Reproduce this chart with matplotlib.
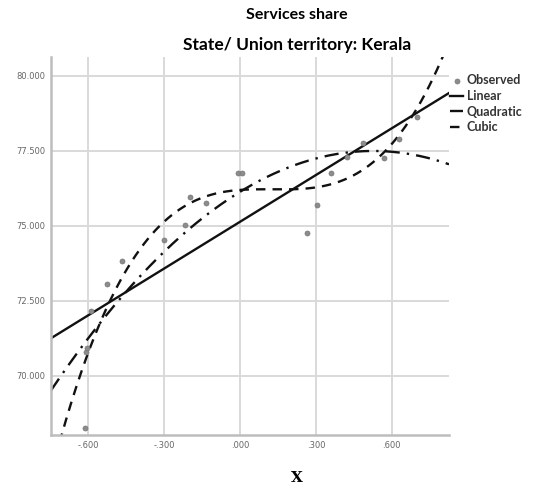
import numpy as np
import matplotlib
matplotlib.use("Agg")
import matplotlib.pyplot as plt

# Observed services share (Kerala) against the centred time variable X
x_obs = [-0.612, -0.610, -0.606, -0.588, -0.525, -0.466, -0.300, -0.217, -0.197,
         -0.134, -0.008, 0.008, 0.264, 0.304, 0.359, 0.422, 0.486, 0.569, 0.628, 0.699]
y_obs = [68.27, 70.80, 70.92, 72.16, 73.06, 73.82, 74.52, 75.02, 75.98,
         75.75, 76.78, 76.78, 74.75, 75.71, 76.78, 77.31, 77.77, 77.28, 77.91, 78.64]

x_ticks = [-0.6, -0.3, 0.0, 0.3, 0.6]
x_tick_labels = ["-.600", "-.300", ".000", ".300", ".600"]
y_ticks = [70.0, 72.5, 75.0, 77.5, 80.0]
y_tick_labels = ["70.000", "72.500", "75.000", "77.500", "80.000"]

x_obs = np.array(x_obs)
y_obs = np.array(y_obs)

fig = plt.figure(figsize=(5.33, 4.91), dpi=100)
ax = fig.add_axes([51 / 533, 1 - 435 / 491, 398 / 533, 378 / 491])

xmin, xmax = -0.747, 0.826
ymin, ymax = 68.03, 80.63
xs = np.linspace(xmin, xmax, 400)

grid_c = "#d9d9d9"
for t in x_ticks:
    ax.axvline(t, color=grid_c, lw=1.4, zorder=0)
for t in y_ticks:
    ax.axhline(t, color=grid_c, lw=1.4, zorder=0)

ax.scatter(x_obs, y_obs, s=13, color="#8c8c8c", edgecolor="#777777", lw=0.5,
           zorder=3, label="Observed")

styles = [(1, "Linear", "-"), (2, "Quadratic", (0, (6, 3, 1, 3))), (3, "Cubic", (0, (4, 3)))]
for deg, name, ls in styles:
    coef = np.polyfit(x_obs, y_obs, deg)
    ax.plot(xs, np.polyval(coef, xs), color="#111111", lw=1.7, ls=ls, label=name,
            zorder=2)

ax.set_xlim(xmin, xmax)
ax.set_ylim(ymin, ymax)
ax.set_xticks(x_ticks)
ax.set_xticklabels(x_tick_labels)
ax.set_yticks(y_ticks)
ax.set_yticklabels(y_tick_labels)
ax.tick_params(length=0, labelsize=6, colors="#666666", pad=4)
for lab in ax.get_xticklabels() + ax.get_yticklabels():
    lab.set_family(["Liberation Sans Narrow", "DejaVu Sans"])
for side in ["top", "right"]:
    ax.spines[side].set_visible(False)
for side in ["left", "bottom"]:
    ax.spines[side].set_color("#bdbdbd")
    ax.spines[side].set_linewidth(1.8)

fig.text(297 / 533, 1 - 15 / 491, "Services share", ha="center", va="center",
         fontsize=11.5, fontweight="bold", family="Lato")
fig.text(297 / 533, 1 - 45 / 491, "State/ Union territory: Kerala", ha="center",
         va="center", fontsize=12.5, fontweight="bold", family="Lato")
fig.text(297 / 533, 1 - 478 / 491, "X", ha="center", va="center",
         fontsize=11, fontweight="bold", family="DejaVu Serif")

leg = ax.legend(loc="upper left", bbox_to_anchor=(1.0, 0.958), frameon=False,
                prop={"family": "Lato", "weight": "bold", "size": 9},
                handlelength=1.0, handletextpad=0.3, labelspacing=0.3,
                borderaxespad=0.0, borderpad=0.1)
for t in leg.get_texts():
    t.set_color("#333333")

fig.savefig("out.png", dpi=100)
